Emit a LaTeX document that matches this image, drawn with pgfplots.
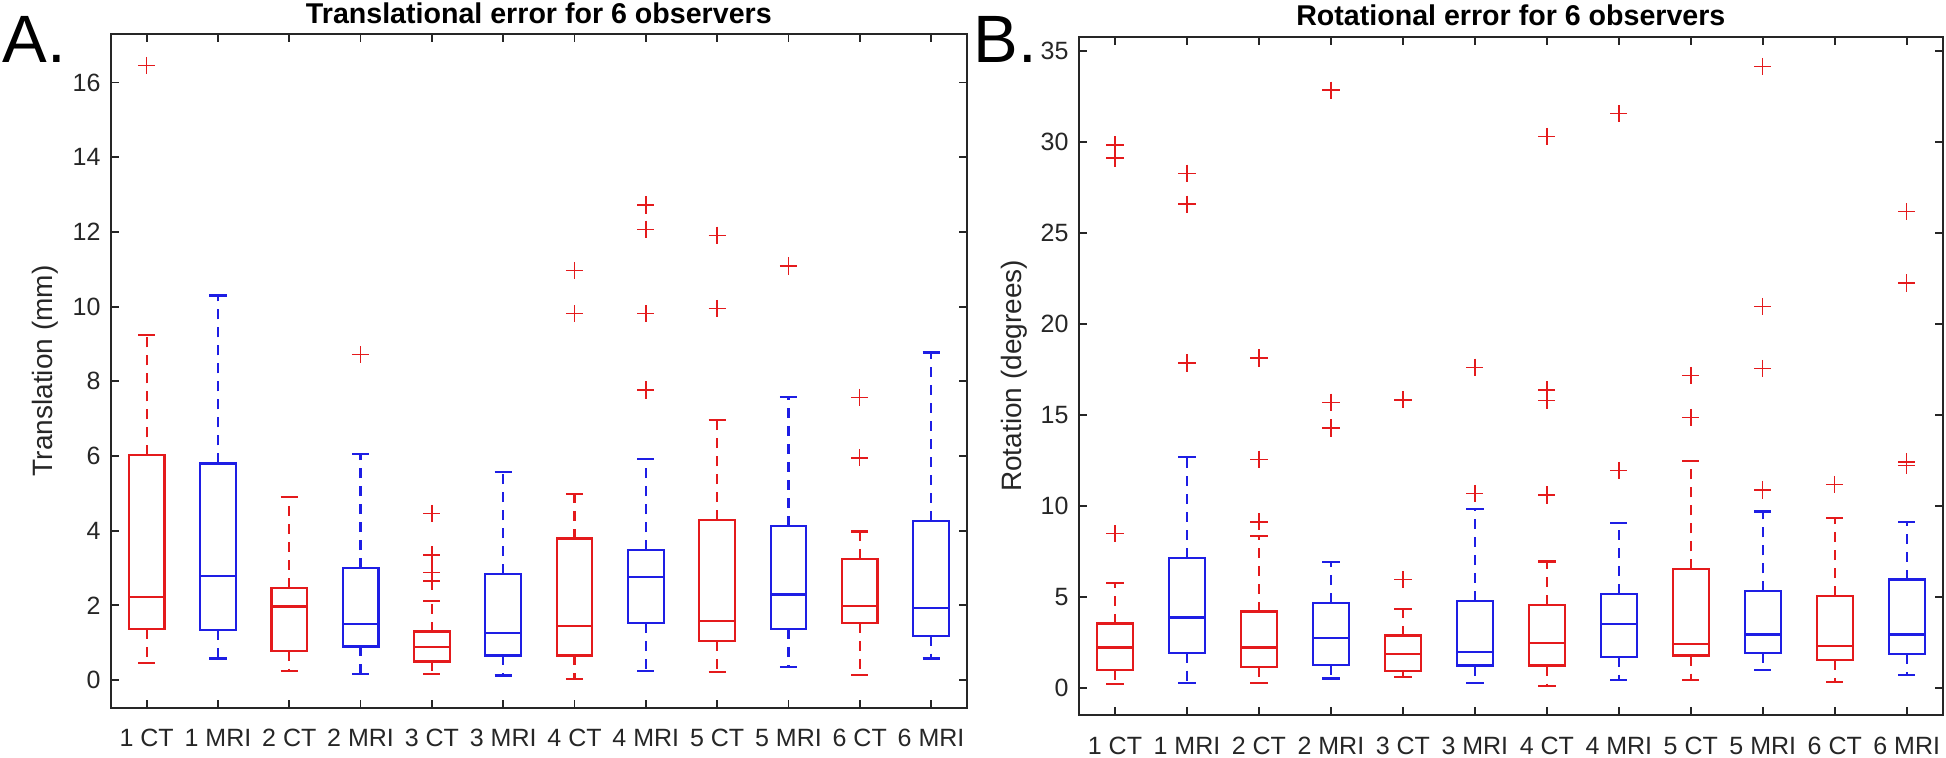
\documentclass[border=0pt]{standalone}
\usepackage{pgfplots}
\pgfplotsset{compat=1.18}
\usepgfplotslibrary{statistics}
\usepackage{fontspec}
\setmainfont{Liberation Sans}

\definecolor{mred}{RGB}{228,26,28}
\definecolor{mblue}{RGB}{30,30,228}
\definecolor{axgray}{RGB}{38,38,38}

\pgfplotsset{
  errbox/.style={
    scale only axis,
    xmin=0.5, xmax=12.5,
    xtick={1,...,12},
    xticklabels={1 CT,1 MRI,2 CT,2 MRI,3 CT,3 MRI,4 CT,4 MRI,5 CT,5 MRI,6 CT,6 MRI},
    tick align=inside,
    major tick length=4pt,
    axis line style={axgray, line width=1pt},
    every tick/.style={axgray, line width=0.9pt},
    tick label style={font=\fontsize{12.5}{14}\selectfont, text=axgray},
    /pgf/number format/assume math mode=true,
    xticklabel style={anchor=base, yshift=-19.5pt},
    yticklabel style={xshift=-1.7pt},
    every axis title/.style={font=\fontsize{14.3}{16}\selectfont\bfseries, at={(axis description cs:0.5,1)}, anchor=base, yshift=5.5pt},
    ylabel style={font=\fontsize{14}{16}\selectfont, text=axgray, anchor=base},
    boxplot/draw direction=y,
    boxplot/box extend=0.5,
    boxplot/whisker extend=0.24,
    boxplot/draw/lower whisker/.code={%
      \draw[/pgfplots/boxplot/every whisker/.try, dash pattern=on 5pt off 4pt]
        (boxplot cs:\pgfplotsboxplotvalue{lower quartile}) -- (boxplot cs:\pgfplotsboxplotvalue{lower whisker});
      \draw[/pgfplots/boxplot/every whisker/.try]
        (boxplot whisker cs:\pgfplotsboxplotvalue{lower whisker},0) -- (boxplot whisker cs:\pgfplotsboxplotvalue{lower whisker},1);
    },
    boxplot/draw/upper whisker/.code={%
      \draw[/pgfplots/boxplot/every whisker/.try, dash pattern=on 5pt off 4pt]
        (boxplot cs:\pgfplotsboxplotvalue{upper quartile}) -- (boxplot cs:\pgfplotsboxplotvalue{upper whisker});
      \draw[/pgfplots/boxplot/every whisker/.try]
        (boxplot whisker cs:\pgfplotsboxplotvalue{upper whisker},0) -- (boxplot whisker cs:\pgfplotsboxplotvalue{upper whisker},1);
    },
  },
  ct/.style={mred, line width=1.1pt, mark=+, mark size=4.3pt, mark options={mred, solid, line width=0.7pt}},
  mri/.style={mblue, line width=1.1pt, mark=+, mark size=4.3pt, mark options={mred, solid, line width=0.7pt}},
}

\begin{document}
\begin{tikzpicture}
\path[use as bounding box] (0,0) rectangle (973pt,378.5pt);

% panel A
\begin{axis}[errbox,
  at={(55.5pt,24.65pt)}, anchor=south west,
  width=427.85pt, height=336.85pt,
  ymin=-0.74, ymax=17.3,
  ytick={0,2,...,16},
  title={Translational error for 6 observers},
  ylabel={Translation (mm)},
  ylabel style={at={(axis description cs:-0.0678,0.5)}},
]
\addplot[ct, boxplot prepared={draw position=1, lower whisker=0.46, lower quartile=1.36, median=2.22, upper quartile=6.02, upper whisker=9.24}] coordinates {(1,16.46)};
\addplot[mri, boxplot prepared={draw position=2, lower whisker=0.58, lower quartile=1.34, median=2.78, upper quartile=5.80, upper whisker=10.3}] coordinates {};
\addplot[ct, boxplot prepared={draw position=3, lower whisker=0.24, lower quartile=0.78, median=1.97, upper quartile=2.47, upper whisker=4.91}] coordinates {};
\addplot[mri, boxplot prepared={draw position=4, lower whisker=0.17, lower quartile=0.90, median=1.51, upper quartile=3.00, upper whisker=6.06}] coordinates {(4,8.71)};
\addplot[ct, boxplot prepared={draw position=5, lower whisker=0.17, lower quartile=0.50, median=0.875, upper quartile=1.30, upper whisker=2.125}] coordinates {(5,4.46) (5,3.35) (5,2.875) (5,2.65)};
\addplot[mri, boxplot prepared={draw position=6, lower whisker=0.12, lower quartile=0.66, median=1.25, upper quartile=2.84, upper whisker=5.57}] coordinates {};
\addplot[ct, boxplot prepared={draw position=7, lower whisker=0.03, lower quartile=0.66, median=1.45, upper quartile=3.79, upper whisker=4.99}] coordinates {(7,10.96) (7,9.81)};
\addplot[mri, boxplot prepared={draw position=8, lower whisker=0.24, lower quartile=1.52, median=2.76, upper quartile=3.48, upper whisker=5.92}] coordinates {(8,12.72) (8,12.07) (8,9.81) (8,7.77)};
\addplot[ct, boxplot prepared={draw position=9, lower whisker=0.21, lower quartile=1.04, median=1.59, upper quartile=4.28, upper whisker=6.96}] coordinates {(9,11.91) (9,9.95)};
\addplot[mri, boxplot prepared={draw position=10, lower whisker=0.36, lower quartile=1.36, median=2.29, upper quartile=4.13, upper whisker=7.58}] coordinates {(10,11.09)};
\addplot[ct, boxplot prepared={draw position=11, lower whisker=0.13, lower quartile=1.53, median=1.99, upper quartile=3.24, upper whisker=3.98}] coordinates {(11,7.57) (11,5.95)};
\addplot[mri, boxplot prepared={draw position=12, lower whisker=0.58, lower quartile=1.19, median=1.94, upper quartile=4.27, upper whisker=8.77}] coordinates {};
\end{axis}

% panel B
\begin{axis}[errbox,
  at={(539.5pt,21pt)}, anchor=south west,
  width=431.85pt, height=339.15pt,
  ymin=-1.5, ymax=35.8,
  ytick={0,5,...,35},
  title={Rotational error for 6 observers},
  ylabel={Rotation (degrees)},
  ylabel style={at={(axis description cs:-0.0665,0.5)}},
]
\addplot[ct, boxplot prepared={draw position=1, lower whisker=0.20, lower quartile=0.96, median=2.21, upper quartile=3.53, upper whisker=5.77}] coordinates {(1,29.85) (1,29.12) (1,8.47)};
\addplot[mri, boxplot prepared={draw position=2, lower whisker=0.28, lower quartile=1.93, median=3.86, upper quartile=7.15, upper whisker=12.67}] coordinates {(2,28.29) (2,26.59) (2,17.86)};
\addplot[ct, boxplot prepared={draw position=3, lower whisker=0.28, lower quartile=1.12, median=2.21, upper quartile=4.19, upper whisker=8.33}] coordinates {(3,18.13) (3,12.56) (3,9.12)};
\addplot[mri, boxplot prepared={draw position=4, lower whisker=0.51, lower quartile=1.27, median=2.74, upper quartile=4.65, upper whisker=6.93}] coordinates {(4,32.86) (4,15.70) (4,14.28)};
\addplot[ct, boxplot prepared={draw position=5, lower whisker=0.61, lower quartile=0.92, median=1.875, upper quartile=2.87, upper whisker=4.32}] coordinates {(5,15.83) (5,5.94)};
\addplot[mri, boxplot prepared={draw position=6, lower whisker=0.24, lower quartile=1.22, median=1.95, upper quartile=4.77, upper whisker=9.83}] coordinates {(6,17.62) (6,10.68)};
\addplot[ct, boxplot prepared={draw position=7, lower whisker=0.11, lower quartile=1.22, median=2.47, upper quartile=4.55, upper whisker=6.94}] coordinates {(7,30.31) (7,16.37) (7,15.78) (7,10.60)};
\addplot[mri, boxplot prepared={draw position=8, lower whisker=0.44, lower quartile=1.71, median=3.52, upper quartile=5.17, upper whisker=9.06}] coordinates {(8,31.57) (8,11.95)};
\addplot[ct, boxplot prepared={draw position=9, lower whisker=0.42, lower quartile=1.77, median=2.41, upper quartile=6.51, upper whisker=12.48}] coordinates {(9,17.17) (9,14.86)};
\addplot[mri, boxplot prepared={draw position=10, lower whisker=0.96, lower quartile=1.92, median=2.93, upper quartile=5.30, upper whisker=9.69}] coordinates {(10,34.16) (10,20.96) (10,17.55) (10,10.87)};
\addplot[ct, boxplot prepared={draw position=11, lower whisker=0.31, lower quartile=1.53, median=2.28, upper quartile=5.04, upper whisker=9.34}] coordinates {(11,11.18)};
\addplot[mri, boxplot prepared={draw position=12, lower whisker=0.72, lower quartile=1.84, median=2.93, upper quartile=5.95, upper whisker=9.13}] coordinates {(12,26.18) (12,22.26) (12,12.41) (12,12.23)};
\end{axis}

\node[anchor=base west, inner sep=0pt, font=\fontsize{33.5}{36}\selectfont] at (1pt,347pt) {A.};
\node[anchor=base west, inner sep=0pt, font=\fontsize{33.5}{36}\selectfont] at (486.5pt,347pt) {B.};
\end{tikzpicture}
\end{document}
